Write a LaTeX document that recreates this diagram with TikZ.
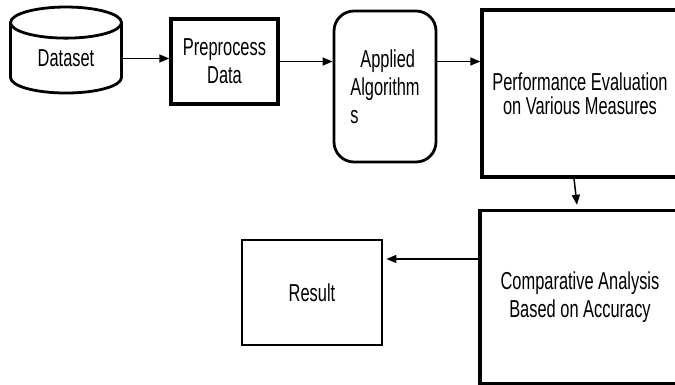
\documentclass[tikz,border=0pt]{standalone}
\usepackage{fontspec}
\setmainfont{Liberation Sans}[FakeStretch=0.67]
\usetikzlibrary{shapes.geometric,arrows.meta}
\begin{document}
\begin{tikzpicture}[x=1pt, y=-1pt,
  font=\fontsize{24.5}{28}\selectfont,
  box/.style={draw, line width=2.8pt, inner sep=0pt, align=center},
  flow/.style={line width=1.5pt, -{Triangle[length=10pt,width=8pt]}}]
\useasboundingbox (0,0) rectangle (675,385);
\clip (0,0) rectangle (675,385);
\node[box, cylinder, shape border rotate=90, aspect=0.55, minimum width=111pt, minimum height=86pt] (data) at (66,58.5) {Dataset};
\node[box, line width=3.4pt, minimum width=107pt, minimum height=85pt] (prep) at (224.5,61.5) {Preprocess\\Data};
\node[box, rounded corners=20pt, minimum width=102pt, minimum height=151pt, align=left] (algo) at (385,86.5) {\hspace{10pt}Applied\\Algorithm\\s};
\node[box, line width=3.4pt, minimum width=196pt, minimum height=167pt, font=\fontsize{24.5}{24}\selectfont] (perf) at (580,93.5) {Performance Evaluation\\on Various Measures};
\node[box, line width=3.4pt, minimum width=200pt, minimum height=173pt] (comp) at (580,297) {Comparative Analysis\\Based on Accuracy};
\node[box, minimum width=140pt, minimum height=105pt] (res) at (312,292.5) {Result};

\draw[flow] (data.east) -- (prep.west |- data.east);
\draw[flow] (prep.east) -- (algo.west |- prep.east);
\draw[flow] (algo.east |- prep.east) -- (perf.west |- prep.east);
\draw[flow] ([xshift=-6pt]perf.south) -- ([xshift=-3pt,yshift=4pt]comp.north);
\draw[flow] ([yshift=38pt]comp.west) -- ([xshift=3pt,yshift=33.5pt]res.east);
\end{tikzpicture}
\end{document}
